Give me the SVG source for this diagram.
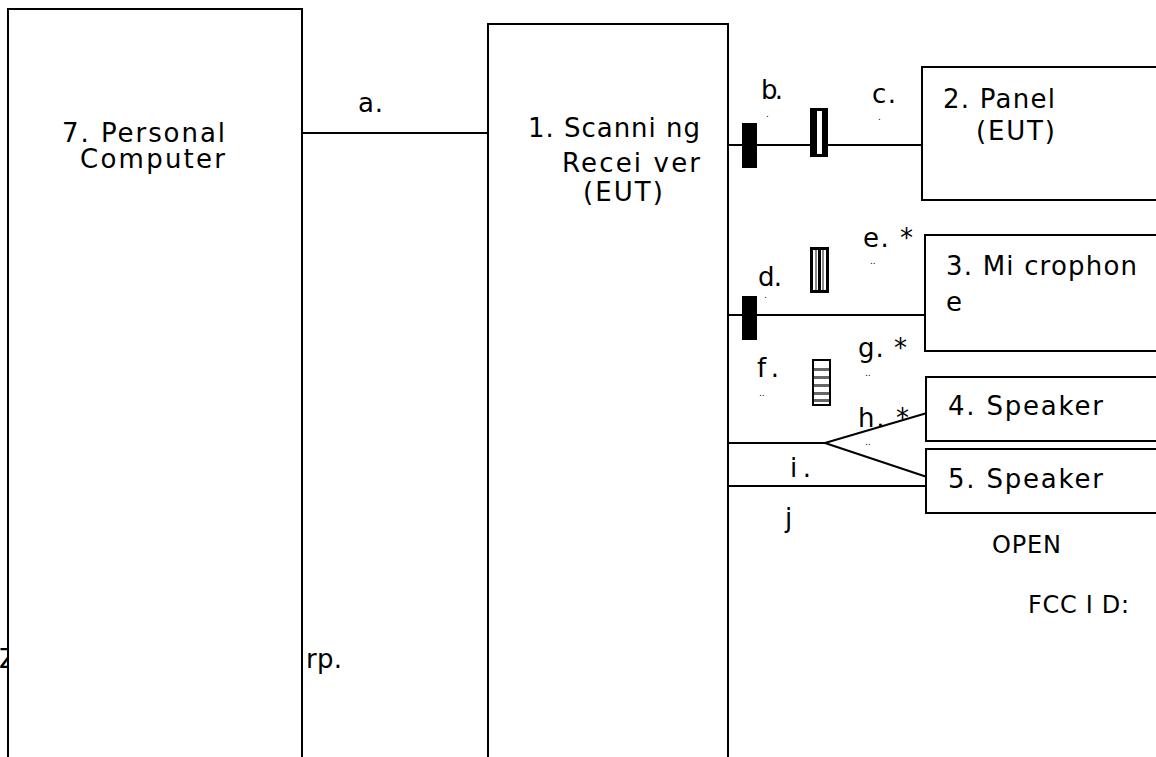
<svg xmlns="http://www.w3.org/2000/svg" width="1156" height="757" viewBox="0 0 1156 757">
<style>
.t{font-family:"DejaVu Sans","Liberation Sans",sans-serif;font-size:26px;fill:#000}
.n{font-family:"DejaVu Sans","Liberation Sans",sans-serif;font-size:24px;fill:#000}
.s{font-family:"DejaVu Sans","Liberation Sans",sans-serif;font-size:9px;fill:#000}
.box{fill:#fff;stroke:#000;stroke-width:2}
.ln{fill:none;stroke:#000;stroke-width:2}
</style>
<rect width="1156" height="757" fill="#fff"/>
<text class="t" x="-1" y="668">Z</text>
<text class="t" x="306" y="668" textLength="36" lengthAdjust="spacing">rp.</text>
<g id="connectors">
<line class="ln" x1="302" y1="133" x2="488" y2="133"/>
<line class="ln" x1="728" y1="145" x2="922" y2="145"/>
<line class="ln" x1="728" y1="315" x2="925" y2="315"/>
<polyline class="ln" points="728,443 825,443 927,413"/>
<line class="ln" x1="825" y1="443" x2="927" y2="477"/>
<line class="ln" x1="728" y1="486" x2="926" y2="486"/>
<rect x="742" y="123" width="15" height="45" fill="#000"/>
<g id="ferrite-c">
<rect x="810" y="108" width="18" height="49" fill="#000"/>
<rect x="817" y="111" width="5" height="43" fill="#fff"/>
</g>
<rect x="742" y="296" width="15" height="44" fill="#000"/>
<g id="ferrite-e">
<rect x="810" y="247" width="19" height="46" fill="#000"/>
<rect x="813" y="250" width="13" height="40" fill="#fff"/>
<rect x="818" y="250" width="3" height="40" fill="#000"/>
<rect x="815" y="250" width="2" height="40" fill="#888"/>
<rect x="822" y="250" width="2" height="40" fill="#888"/>
</g>
<g id="ferrite-f">
<rect x="812" y="359" width="19" height="47" fill="#000"/>
<rect x="814" y="361" width="15" height="43" fill="#fff"/>
<rect x="814" y="368" width="15" height="3" fill="#666"/>
<rect x="814" y="376" width="15" height="3" fill="#666"/>
<rect x="814" y="384" width="15" height="3" fill="#666"/>
<rect x="814" y="392" width="15" height="3" fill="#666"/>
<rect x="814" y="399" width="15" height="3" fill="#666"/>
</g>
</g>
<g id="node-pc">
<rect class="box" x="8" y="9" width="294" height="770"/>
<text class="t" x="62" y="142" textLength="163" lengthAdjust="spacing">7. Personal</text>
<text class="t" x="80" y="168" textLength="145" lengthAdjust="spacing">Computer</text>
</g>
<g id="node-receiver">
<rect class="box" x="488" y="24" width="240" height="760"/>
<text class="t" x="528" y="137" textLength="172" lengthAdjust="spacing">1. Scanni ng</text>
<text class="t" x="562" y="172" textLength="138" lengthAdjust="spacing">Recei ver</text>
<text class="t" x="583" y="201" textLength="80" lengthAdjust="spacing">(EUT)</text>
</g>
<g id="node-panel">
<rect class="box" x="922" y="67" width="250" height="133"/>
<text class="t" x="943" y="108" textLength="112" lengthAdjust="spacing">2. Panel</text>
<text class="t" x="976" y="140" textLength="79" lengthAdjust="spacing">(EUT)</text>
</g>
<g id="node-mic">
<rect class="box" x="925" y="235" width="250" height="116"/>
<text class="t" x="946" y="275" textLength="191" lengthAdjust="spacing">3. Mi crophon</text>
<text class="t" x="946" y="311">e</text>
</g>
<g id="node-spk4">
<rect class="box" x="926" y="377" width="250" height="64"/>
<text class="t" x="948" y="415" textLength="155" lengthAdjust="spacing">4. Speaker</text>
</g>
<g id="node-spk5">
<rect class="box" x="926" y="449" width="250" height="64"/>
<text class="t" x="948" y="488" textLength="155" lengthAdjust="spacing">5. Speaker</text>
</g>
<g id="labels">
<text class="t" x="358" y="112" textLength="25" lengthAdjust="spacing">a.</text>
<text class="t" x="761" y="99" textLength="22" lengthAdjust="spacing">b.</text>
<text class="s" x="766" y="117">.</text>
<text class="t" x="872" y="103" textLength="24" lengthAdjust="spacing">c.</text>
<text class="s" x="878" y="120">.</text>
<text class="t" x="758" y="286" textLength="24" lengthAdjust="spacing">d.</text>
<text class="s" x="764" y="298">.</text>
<text class="t" x="863" y="247" textLength="50" lengthAdjust="spacing">e. *</text>
<text class="s" x="870" y="264">..</text>
<text class="t" x="757" y="377" textLength="22" lengthAdjust="spacing">f.</text>
<text class="s" x="759" y="396">..</text>
<text class="t" x="858" y="357" textLength="49" lengthAdjust="spacing">g. *</text>
<text class="s" x="865" y="376">..</text>
<text class="t" x="858" y="427" textLength="51" lengthAdjust="spacing">h. *</text>
<text class="s" x="865" y="445">..</text>
<text class="t" x="790" y="477" textLength="21" lengthAdjust="spacing">i .</text>
<text class="t" x="785" y="527">j</text>
<text class="n" x="992" y="553" textLength="69" lengthAdjust="spacing">OPEN</text>
<text class="n" x="1028" y="613" textLength="101" lengthAdjust="spacing">FCC I D:</text>
</g>
</svg>
